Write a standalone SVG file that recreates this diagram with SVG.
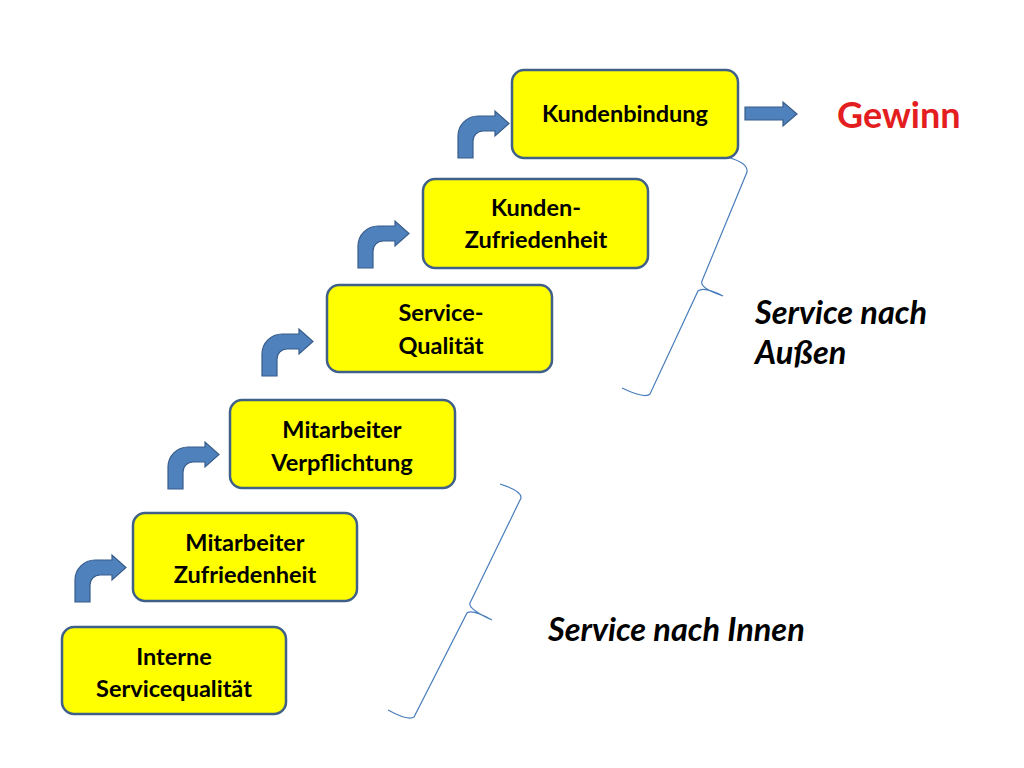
<svg xmlns="http://www.w3.org/2000/svg" width="1024" height="768" viewBox="0 0 1024 768">
<defs>
<style>
.box{fill:#FFFF00;stroke:#3F6089;stroke-width:2.5}
.lbl{font-family:Lato,"Open Sans","Liberation Sans",sans-serif;font-weight:bold;font-size:23.5px;fill:#000;text-anchor:middle}
.it{font-family:Lato,"Open Sans","Liberation Sans",sans-serif;font-weight:bold;font-style:italic;font-size:32.5px;fill:#000}
.arr{fill:#4F81BD;stroke:#385D8A;stroke-width:1.2}
.brace{fill:none;stroke:#4A7EBB;stroke-width:1.2}
</style>
<path id="bent" class="arr" d="M0,0 L0,-22 A20,20 0 0 1 20,-42 L37,-42 L37,-47 L51,-34.5 L37,-22 L37,-27 L25,-27 A10,10 0 0 0 15,-17 L15,0 Z"/>
</defs>
<rect width="1024" height="768" fill="#fff"/>
<g id="n1"><rect class="box" x="62" y="627" width="224" height="87" rx="12"/><text class="lbl" x="174" y="665">Interne</text><text class="lbl" x="174" y="697">Servicequalität</text></g>
<g id="n2"><rect class="box" x="133" y="513" width="224" height="88" rx="12"/><text class="lbl" x="245" y="551">Mitarbeiter</text><text class="lbl" x="245" y="583">Zufriedenheit</text></g>
<g id="n3"><rect class="box" x="230" y="400" width="225" height="88" rx="12"/><text class="lbl" x="342" y="438">Mitarbeiter</text><text class="lbl" x="342" y="471">Verpflichtung</text></g>
<g id="n4"><rect class="box" x="327" y="285" width="225" height="87" rx="12"/><text class="lbl" x="441" y="321">Service-</text><text class="lbl" x="441" y="354">Qualität</text></g>
<g id="n5"><rect class="box" x="423" y="179" width="225" height="89" rx="12"/><text class="lbl" x="536" y="216">Kunden-</text><text class="lbl" x="536" y="248">Zufriedenheit</text></g>
<g id="n6"><rect class="box" x="512" y="70" width="226" height="88" rx="12"/><text class="lbl" x="625" y="122">Kundenbindung</text></g>
<g id="gewinn"><text x="837" y="128" font-family="Lato,'Open Sans','Liberation Sans',sans-serif" font-weight="bold" font-size="36" fill="#E41E20">Gewinn</text></g>
<g id="connectors">
<use href="#bent" x="75" y="602"/>
<use href="#bent" x="168" y="489"/>
<use href="#bent" x="262" y="376"/>
<use href="#bent" x="358" y="268"/>
<use href="#bent" x="458" y="158"/>
<path class="arr" d="M745,107 L783,107 L783,102 L797,114 L783,126 L783,120 L745,120 Z"/>
</g>
<g id="braces">
<path class="brace" d="M730,158 Q748,163 747,172 L702,281 Q699,288 723,296 Q704,286 698,291 L650,394 Q645,399 622,388"/>
<path class="brace" d="M500,484 Q522,491 521,498 L470,603 Q468,609 492,620 Q472,609 467,613 L414,717 Q408,721 388,710"/>
</g>
<g id="labels">
<text class="it" x="755" y="324">Service nach</text>
<text class="it" x="755" y="364">Außen</text>
<text class="it" x="548" y="641">Service nach Innen</text>
</g>
</svg>
